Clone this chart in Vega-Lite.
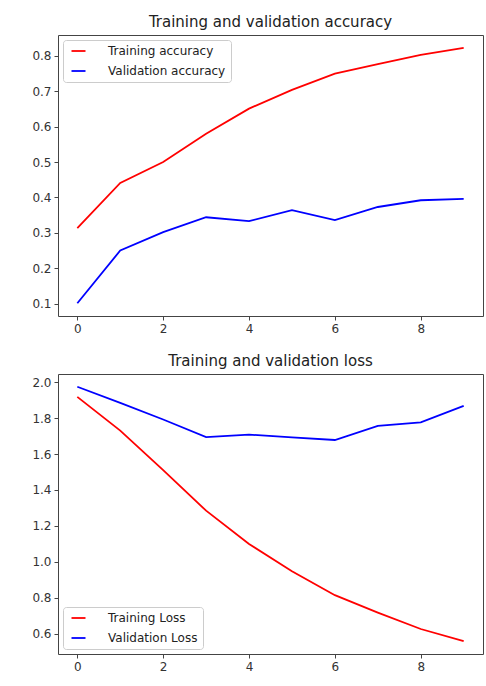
{
  "$schema": "https://vega.github.io/schema/vega-lite/v6.json",
  "background": "white",
  "padding": {"left": 31, "top": 14, "right": 0, "bottom": 0},
  "spacing": 18,
  "config": {
    "font": "DejaVu Sans",
    "view": {"stroke": "#444444", "strokeWidth": 1},
    "axis": {"grid": false, "domain": false, "tickColor": "#444444", "tickSize": 4, "tickWidth": 1, "labelPadding": 3, "labelFontSize": 12, "labelColor": "#333333", "labelFont": "DejaVu Sans", "title": null},
    "title": {"fontSize": 15, "fontWeight": "normal", "color": "#222222", "font": "DejaVu Sans", "anchor": "middle", "offset": 5},
    "legend": {"title": null, "symbolType": "M-0.5,0H2.3", "symbolSize": 100, "symbolStrokeWidth": 1.8, "labelFontSize": 12, "labelColor": "#222222", "labelFont": "DejaVu Sans", "fillColor": "white", "strokeColor": "#cccccc", "cornerRadius": 3, "padding": 5, "rowPadding": 8, "labelOffset": 28, "offset": 5}
  },
  "datasets": {
    "hist": [
      {"metric": "accuracy", "series": "Training accuracy", "epoch": 0, "value": 0.313},
      {"metric": "accuracy", "series": "Training accuracy", "epoch": 1, "value": 0.441},
      {"metric": "accuracy", "series": "Training accuracy", "epoch": 2, "value": 0.500},
      {"metric": "accuracy", "series": "Training accuracy", "epoch": 3, "value": 0.580},
      {"metric": "accuracy", "series": "Training accuracy", "epoch": 4, "value": 0.651},
      {"metric": "accuracy", "series": "Training accuracy", "epoch": 5, "value": 0.704},
      {"metric": "accuracy", "series": "Training accuracy", "epoch": 6, "value": 0.750},
      {"metric": "accuracy", "series": "Training accuracy", "epoch": 7, "value": 0.777},
      {"metric": "accuracy", "series": "Training accuracy", "epoch": 8, "value": 0.803},
      {"metric": "accuracy", "series": "Training accuracy", "epoch": 9, "value": 0.823},
      {"metric": "accuracy", "series": "Validation accuracy", "epoch": 0, "value": 0.101},
      {"metric": "accuracy", "series": "Validation accuracy", "epoch": 1, "value": 0.250},
      {"metric": "accuracy", "series": "Validation accuracy", "epoch": 2, "value": 0.302},
      {"metric": "accuracy", "series": "Validation accuracy", "epoch": 3, "value": 0.344},
      {"metric": "accuracy", "series": "Validation accuracy", "epoch": 4, "value": 0.333},
      {"metric": "accuracy", "series": "Validation accuracy", "epoch": 5, "value": 0.364},
      {"metric": "accuracy", "series": "Validation accuracy", "epoch": 6, "value": 0.336},
      {"metric": "accuracy", "series": "Validation accuracy", "epoch": 7, "value": 0.373},
      {"metric": "accuracy", "series": "Validation accuracy", "epoch": 8, "value": 0.392},
      {"metric": "accuracy", "series": "Validation accuracy", "epoch": 9, "value": 0.396},
      {"metric": "loss", "series": "Training Loss", "epoch": 0, "value": 1.918},
      {"metric": "loss", "series": "Training Loss", "epoch": 1, "value": 1.730},
      {"metric": "loss", "series": "Training Loss", "epoch": 2, "value": 1.510},
      {"metric": "loss", "series": "Training Loss", "epoch": 3, "value": 1.285},
      {"metric": "loss", "series": "Training Loss", "epoch": 4, "value": 1.100},
      {"metric": "loss", "series": "Training Loss", "epoch": 5, "value": 0.948},
      {"metric": "loss", "series": "Training Loss", "epoch": 6, "value": 0.815},
      {"metric": "loss", "series": "Training Loss", "epoch": 7, "value": 0.718},
      {"metric": "loss", "series": "Training Loss", "epoch": 8, "value": 0.627},
      {"metric": "loss", "series": "Training Loss", "epoch": 9, "value": 0.559},
      {"metric": "loss", "series": "Validation Loss", "epoch": 0, "value": 1.974},
      {"metric": "loss", "series": "Validation Loss", "epoch": 1, "value": 1.884},
      {"metric": "loss", "series": "Validation Loss", "epoch": 2, "value": 1.792},
      {"metric": "loss", "series": "Validation Loss", "epoch": 3, "value": 1.694},
      {"metric": "loss", "series": "Validation Loss", "epoch": 4, "value": 1.708},
      {"metric": "loss", "series": "Validation Loss", "epoch": 5, "value": 1.693},
      {"metric": "loss", "series": "Validation Loss", "epoch": 6, "value": 1.678},
      {"metric": "loss", "series": "Validation Loss", "epoch": 7, "value": 1.757},
      {"metric": "loss", "series": "Validation Loss", "epoch": 8, "value": 1.776},
      {"metric": "loss", "series": "Validation Loss", "epoch": 9, "value": 1.868}
    ]
  },
  "resolve": {"scale": {"color": "independent", "x": "independent", "y": "independent"}, "legend": {"color": "independent"}},
  "vconcat": [
    {
      "title": "Training and validation accuracy",
      "width": 425,
      "height": 281,
      "data": {"name": "hist"},
      "transform": [{"filter": "datum.metric === 'accuracy'"}],
      "mark": {"type": "line", "strokeWidth": 1.8},
      "encoding": {
        "x": {"field": "epoch", "type": "quantitative", "scale": {"domain": [-0.45, 9.45], "nice": false, "zero": false}, "axis": {"values": [0, 2, 4, 6, 8], "format": "d"}},
        "y": {"field": "value", "type": "quantitative", "scale": {"domain": [0.0649, 0.8591], "nice": false, "zero": false}, "axis": {"values": [0.1, 0.2, 0.3, 0.4, 0.5, 0.6, 0.7, 0.8], "format": ".1f"}},
        "color": {"field": "series", "type": "nominal", "scale": {"domain": ["Training accuracy", "Validation accuracy"], "range": ["#ff0000", "#0000ff"]}, "legend": {"orient": "top-left"}}
      }
    },
    {
      "title": "Training and validation loss",
      "width": 425,
      "height": 280,
      "data": {"name": "hist"},
      "transform": [{"filter": "datum.metric === 'loss'"}],
      "mark": {"type": "line", "strokeWidth": 1.8},
      "encoding": {
        "x": {"field": "epoch", "type": "quantitative", "scale": {"domain": [-0.45, 9.45], "nice": false, "zero": false}, "axis": {"values": [0, 2, 4, 6, 8], "format": "d"}},
        "y": {"field": "value", "type": "quantitative", "scale": {"domain": [0.488, 2.045], "nice": false, "zero": false}, "axis": {"values": [0.6, 0.8, 1.0, 1.2, 1.4, 1.6, 1.8, 2.0], "format": ".1f"}},
        "color": {"field": "series", "type": "nominal", "scale": {"domain": ["Training Loss", "Validation Loss"], "range": ["#ff0000", "#0000ff"]}, "legend": {"orient": "bottom-left"}}
      }
    }
  ]
}
